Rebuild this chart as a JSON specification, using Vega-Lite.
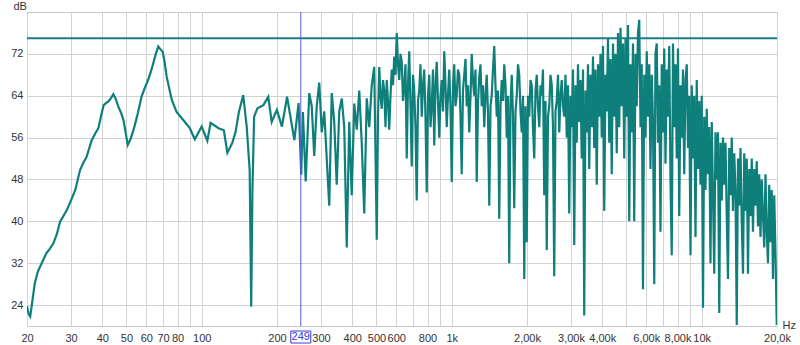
{
"$schema": "https://vega.github.io/schema/vega-lite/v6.json",
"width": 750,
"height": 314,
"autosize": "none",
"padding": {"left": 27, "top": 12, "right": 23, "bottom": 19},
"background": "white",
"config": {
  "view": {"stroke": "#c8c8c8", "strokeWidth": 1},
  "font": "Liberation Sans"
},
"datasets": {
"resp": [
{"f":20,"db":23.8},{"f":20.3,"db":22.3},{"f":20.6,"db":21.8},{"f":21.5,"db":28.2},{"f":22.1,"db":30.4},{"f":23.9,"db":33.9},{"f":24.7,"db":34.8},{"f":25.5,"db":35.8},{"f":26.3,"db":37.5},{"f":27.1,"db":39.9},{"f":28.9,"db":42.2},{"f":30.0,"db":44.0},{"f":31.2,"db":46.0},{"f":32.6,"db":49.8},{"f":33.6,"db":51.2},{"f":34.6,"db":52.3},{"f":36.3,"db":55.5},{"f":37.5,"db":56.8},{"f":38.6,"db":57.8},{"f":39.5,"db":60.0},{"f":40.5,"db":62.2},{"f":41.4,"db":62.6},{"f":42.3,"db":62.9},{"f":43.3,"db":63.5},{"f":44.3,"db":64.3},{"f":45.3,"db":63.4},{"f":46.4,"db":61.9},{"f":47.5,"db":60.8},{"f":48.6,"db":59.4},{"f":49.6,"db":57.0},{"f":50.6,"db":54.6},{"f":52.0,"db":55.8},{"f":53.8,"db":58.1},{"f":55.6,"db":60.8},{"f":57.4,"db":63.8},{"f":59.2,"db":65.5},{"f":61.0,"db":67.0},{"f":62.5,"db":68.5},{"f":64.0,"db":70.2},{"f":65.5,"db":72.0},{"f":67.0,"db":73.4},{"f":68.3,"db":72.9},{"f":69.8,"db":72.4},{"f":71.0,"db":70.5},{"f":72.4,"db":67.6},{"f":75.9,"db":63.2},{"f":79.3,"db":60.9},{"f":84.2,"db":59.4},{"f":89.6,"db":57.8},{"f":93.8,"db":55.7},{"f":99.9,"db":58.1},{"f":105.3,"db":55.4},{"f":108.5,"db":58.8},{"f":116.8,"db":57.8},{"f":122.6,"db":57.4},{"f":126.6,"db":53.1},{"f":132.3,"db":54.9},{"f":136.6,"db":57.1},{"f":140.8,"db":60.9},{"f":146.5,"db":64.1},{"f":151.3,"db":58.1},{"f":155.5,"db":49.8},{"f":157.7,"db":23.7},{"f":159.5,"db":46.0},{"f":162.0,"db":60.0},{"f":167.1,"db":61.6},{"f":176.4,"db":62.2},{"f":184.5,"db":63.8},{"f":190.5,"db":59.0},{"f":199.8,"db":61.3},{"f":209.3,"db":58.1},{"f":219.4,"db":63.8},{"f":234.8,"db":55.5},{"f":243.9,"db":62.6},{"f":250,"db":48.9},{"f":253.9,"db":60.9},{"f":260.5,"db":47.6},
{"f":269.2,"db":64.5},{"f":275.4,"db":62},{"f":281.8,"db":52.5},{"f":288.4,"db":62},{"f":295.1,"db":66.5},{"f":302.0,"db":57},{"f":309.0,"db":61},{"f":316.2,"db":52},{"f":323.6,"db":43},{"f":331.1,"db":64.5},{"f":338.8,"db":59},{"f":346.7,"db":47},{"f":354.8,"db":61},{"f":363.1,"db":63.5},{"f":371.5,"db":58},{"f":380.2,"db":35},{"f":389.0,"db":59},{"f":398.1,"db":45},{"f":407.4,"db":62.5},{"f":416.9,"db":57.5},{"f":426.6,"db":65},{"f":436.5,"db":55},{"f":446.7,"db":41.5},{"f":457.1,"db":63.5},{"f":467.7,"db":58},{"f":478.6,"db":66},{"f":489.8,"db":69.5},
{"f":501.2,"db":36.5},{"f":507.0,"db":60},{"f":512.9,"db":69.5},{"f":518.8,"db":64},{"f":524.8,"db":61.5},{"f":530.9,"db":67},{"f":537.0,"db":65},{"f":543.3,"db":58},{"f":549.5,"db":67},{"f":555.9,"db":63},{"f":562.3,"db":57.5},{"f":568.9,"db":64},{"f":575.4,"db":69},{"f":582.1,"db":66},{"f":588.8,"db":71.5},{"f":595.7,"db":68},{"f":602.6,"db":76},{"f":609.5,"db":70},{"f":616.6,"db":67},{"f":623.7,"db":72},{"f":631.0,"db":70.5},{"f":638.3,"db":63},{"f":645.7,"db":66},{"f":653.1,"db":70},{"f":660.7,"db":52},{"f":668.3,"db":66},{"f":676.1,"db":72.5},{"f":683.9,"db":62},{"f":691.8,"db":50.5},{"f":699.8,"db":68},{"f":707.9,"db":65},{"f":716.1,"db":58},{"f":724.4,"db":44},{"f":732.8,"db":63},{"f":741.3,"db":65},{"f":749.9,"db":70},{"f":758.6,"db":60},{"f":767.4,"db":66},{"f":776.2,"db":69},{"f":785.2,"db":60},{"f":794.3,"db":45.5},{"f":803.5,"db":64},{"f":812.8,"db":68},{"f":822.2,"db":58},{"f":831.8,"db":62},{"f":841.4,"db":69},{"f":851.1,"db":54.5},{"f":861.0,"db":66},{"f":871.0,"db":70.5},{"f":881.0,"db":63},{"f":891.3,"db":56},{"f":901.6,"db":64},{"f":912.0,"db":67},{"f":922.6,"db":61},{"f":933.3,"db":72.5},{"f":944.1,"db":66},{"f":955.0,"db":58},{"f":966.1,"db":64},{"f":977.2,"db":69},{"f":988.6,"db":62},{"f":1000,"db":47.5},
{"f":1012,"db":66},{"f":1023,"db":70},{"f":1035,"db":62},{"f":1047,"db":64},{"f":1059,"db":69},{"f":1072,"db":68},{"f":1084,"db":60},{"f":1096,"db":49},{"f":1109,"db":65},{"f":1122,"db":68},{"f":1135,"db":71},{"f":1148,"db":62},{"f":1161,"db":66},{"f":1175,"db":57},{"f":1189,"db":64},{"f":1202,"db":72},{"f":1216,"db":67},{"f":1230,"db":64},{"f":1245,"db":69},{"f":1259,"db":47.5},{"f":1274,"db":63},{"f":1288,"db":67.5},{"f":1303,"db":70},{"f":1318,"db":62},{"f":1334,"db":66},{"f":1349,"db":58},{"f":1365,"db":64},{"f":1380,"db":68},{"f":1396,"db":61},{"f":1413,"db":43},{"f":1429,"db":62},{"f":1445,"db":64},{"f":1462,"db":69},{"f":1479,"db":73.5},{"f":1496,"db":66},{"f":1514,"db":60},{"f":1531,"db":65},{"f":1549,"db":40.5},{"f":1567,"db":62},{"f":1585,"db":67},{"f":1603,"db":63},{"f":1622,"db":70},{"f":1641,"db":66},{"f":1660,"db":56},{"f":1679,"db":64},{"f":1698,"db":32},{"f":1718,"db":62},{"f":1738,"db":68},{"f":1758,"db":60},{"f":1778,"db":42.5},{"f":1799,"db":61},{"f":1820,"db":64},{"f":1841,"db":70},{"f":1862,"db":68},{"f":1884,"db":61},{"f":1905,"db":57},{"f":1928,"db":64},{"f":1950,"db":29},{"f":1972,"db":62},{"f":1995,"db":36},{"f":2018,"db":64},{"f":2042,"db":60},{"f":2065,"db":67},{"f":2089,"db":66},{"f":2113,"db":58},{"f":2138,"db":52},{"f":2163,"db":65},{"f":2188,"db":68},{"f":2213,"db":62},{"f":2239,"db":58},{"f":2265,"db":66},{"f":2291,"db":64},{"f":2317,"db":69},{"f":2344,"db":45},{"f":2371,"db":63},{"f":2399,"db":34.5},{"f":2427,"db":60},{"f":2455,"db":62},{"f":2483,"db":68},{"f":2512,"db":66},{"f":2541,"db":58},{"f":2570,"db":29.5},{"f":2600,"db":61},{"f":2630,"db":63},{"f":2661,"db":68},{"f":2692,"db":57},{"f":2723,"db":64},{"f":2754,"db":67},{"f":2786,"db":62},
{"f":2818,"db":60},{"f":2851,"db":68},{"f":2884,"db":56},{"f":2917,"db":66},{"f":2951,"db":41.5},{"f":2985,"db":64},{"f":3020,"db":58},{"f":3055,"db":69},{"f":3090,"db":35.5},{"f":3126,"db":66},{"f":3162,"db":55},{"f":3199,"db":70},{"f":3236,"db":59},{"f":3273,"db":67},{"f":3311,"db":52},{"f":3350,"db":69},{"f":3388,"db":22},{"f":3428,"db":65},{"f":3467,"db":57},{"f":3508,"db":70},{"f":3548,"db":50},{"f":3589,"db":68},{"f":3631,"db":58},{"f":3673,"db":71.5},{"f":3715,"db":54},{"f":3758,"db":69},{"f":3802,"db":47},{"f":3846,"db":70},{"f":3890,"db":60},{"f":3936,"db":72},{"f":3981,"db":56},{"f":4027,"db":73.5},{"f":4074,"db":42},{"f":4121,"db":68},{"f":4169,"db":61},{"f":4217,"db":75},{"f":4266,"db":55},{"f":4315,"db":71},{"f":4365,"db":49},{"f":4416,"db":74},{"f":4467,"db":60},{"f":4519,"db":72},{"f":4571,"db":53},{"f":4624,"db":76},{"f":4677,"db":58},{"f":4732,"db":77},{"f":4786,"db":62},{"f":4842,"db":74},{"f":4898,"db":52},{"f":4955,"db":75},{"f":5012,"db":60},{"f":5070,"db":77.5},{"f":5129,"db":40},{"f":5188,"db":70},{"f":5248,"db":57},{"f":5309,"db":74},{"f":5370,"db":40},{"f":5433,"db":72},{"f":5495,"db":62},{"f":5559,"db":76},{"f":5623,"db":78.5},{"f":5689,"db":58},{"f":5754,"db":70},{"f":5821,"db":27},{"f":5888,"db":68},{"f":5957,"db":56},{"f":6026,"db":72.5},{"f":6095,"db":60},{"f":6166,"db":70},{"f":6237,"db":50},{"f":6310,"db":68},{"f":6383,"db":59},{"f":6457,"db":28},{"f":6531,"db":72},{"f":6607,"db":74},{"f":6683,"db":55},{"f":6761,"db":66},{"f":6839,"db":38},{"f":6918,"db":70},{"f":6998,"db":57},{"f":7079,"db":73},{"f":7161,"db":51},{"f":7244,"db":69},{"f":7328,"db":60},{"f":7413,"db":73.5},{"f":7499,"db":48},{"f":7586,"db":33.5},{"f":7674,"db":74},{"f":7762,"db":58},{"f":7852,"db":70},{"f":7943,"db":52},{"f":8035,"db":73},{"f":8128,"db":41},{"f":8222,"db":66},{"f":8318,"db":56},{"f":8414,"db":69},{"f":8511,"db":49},{"f":8610,"db":67},{"f":8710,"db":70},{"f":8810,"db":54},{"f":8913,"db":64},{"f":9016,"db":33.5},{"f":9120,"db":66},{"f":9226,"db":52},{"f":9333,"db":64},{"f":9441,"db":37},{"f":9550,"db":67},{"f":9661,"db":50},{"f":9772,"db":63},{"f":9886,"db":47},{"f":10000,"db":64},{"f":10116,"db":23.5},{"f":10233,"db":60},{"f":10351,"db":46},{"f":10471,"db":61.5},{"f":10593,"db":49},{"f":10715,"db":58},{"f":10839,"db":32},{"f":10965,"db":59},{"f":11092,"db":45},{"f":11220,"db":30},{"f":11350,"db":57},{"f":11482,"db":48},{"f":11614,"db":57},{"f":11749,"db":22.5},{"f":11885,"db":55},{"f":12023,"db":44},{"f":12162,"db":56},{"f":12303,"db":47},{"f":12445,"db":55},{"f":12589,"db":41},{"f":12735,"db":29},{"f":12882,"db":54},{"f":13032,"db":45},{"f":13183,"db":56},{"f":13335,"db":42},{"f":13490,"db":53},{"f":13646,"db":46},{"f":13804,"db":20.2},{"f":13964,"db":52},{"f":14125,"db":43},{"f":14289,"db":54},{"f":14454,"db":40},{"f":14622,"db":30},{"f":14791,"db":53},{"f":14962,"db":42},{"f":15136,"db":52},{"f":15311,"db":30},{"f":15488,"db":50},{"f":15668,"db":41},{"f":15849,"db":52},{"f":16032,"db":38},{"f":16218,"db":50},{"f":16406,"db":43},{"f":16596,"db":51.5},{"f":16788,"db":39},{"f":16982,"db":49},{"f":17179,"db":37},{"f":17378,"db":48},{"f":17579,"db":41},{"f":17783,"db":35},{"f":17989,"db":49},{"f":18197,"db":38},{"f":18408,"db":32},{"f":18621,"db":47},{"f":18836,"db":36},{"f":19055,"db":46},{"f":19275,"db":29},{"f":19498,"db":45},{"f":19724,"db":34},{"f":19953,"db":20.2}
],
"ref": [{"db": 75}],
"cursor": [{"f": 249, "label": "249"}]
},
"layer": [
{
  "data": {"name": "resp"},
  "mark": {"type": "line", "color": "#0f7f7b", "strokeWidth": 2.2, "clip": true},
  "encoding": {
    "x": {"field": "f", "type": "quantitative",
      "scale": {"type": "log", "domain": [20, 20000], "nice": false},
      "axis": {
        "values": [20,30,40,50,60,70,80,90,100,200,300,400,500,600,700,800,900,1000,2000,3000,4000,5000,6000,7000,8000,9000,10000,20000],
        "labelExpr": "(datum.value==90||datum.value==700||datum.value==900||datum.value==5000||datum.value==7000||datum.value==9000) ? '' : datum.value==1000 ? '1k' : datum.value==10000 ? '10k' : datum.value==20000 ? '20,0k' : datum.value>=2000 ? (datum.value/1000)+',00k' : ''+datum.value",
        "grid": true, "gridColor": "#d2d2d2", "gridWidth": 1,
        "ticks": false, "domain": false,
        "labelFont": "Liberation Sans", "labelFontSize": 11, "labelColor": "#333333",
        "labelPadding": 6, "labelFlush": false, "labelOverlap": false,
        "title": "Hz", "titleFont": "Liberation Sans", "titleFontSize": 11, "titleFontWeight": "normal", "titleColor": "#333333",
        "titleX": 755, "titleY": -1, "titleAlign": "left", "titleBaseline": "middle", "titleAnchor": "start"
      }},
    "y": {"field": "db", "type": "quantitative",
      "scale": {"domain": [20, 80], "nice": false, "zero": false},
      "axis": {
        "values": [24,32,40,48,56,64,72],
        "grid": true, "gridColor": "#d2d2d2", "gridWidth": 1,
        "ticks": false, "domain": false,
        "labelFont": "Liberation Sans", "labelFontSize": 11, "labelColor": "#333333", "labelPadding": 4,
        "title": "dB", "titleFont": "Liberation Sans", "titleFontSize": 11, "titleFontWeight": "normal", "titleColor": "#333333",
        "titleAngle": 0, "titleX": -14, "titleY": -6, "titleAlign": "left", "titleBaseline": "middle"
      }}
  }
},
{
  "data": {"name": "ref"},
  "mark": {"type": "rule", "color": "#1a7d87", "strokeWidth": 2},
  "encoding": {"y": {"field": "db", "type": "quantitative"}}
},
{
  "data": {"name": "cursor"},
  "mark": {"type": "rule", "color": "#5a5ae0", "strokeWidth": 1},
  "encoding": {"x": {"field": "f", "type": "quantitative"}}
},
{
  "data": {"name": "cursor"},
  "mark": {"type": "point", "shape": "M-1,-0.6H1V0.6H-1Z", "size": 400, "filled": false, "fill": "white", "fillOpacity": 1, "stroke": "#3a3ad8", "strokeWidth": 1, "opacity": 1, "yOffset": 11, "clip": false},
  "encoding": {"x": {"field": "f", "type": "quantitative"}, "y": {"datum": 20}}
},
{
  "data": {"name": "cursor"},
  "mark": {"type": "text", "color": "#3a3ad8", "font": "Liberation Sans", "fontSize": 11, "align": "center", "baseline": "middle", "dy": 11, "clip": false},
  "encoding": {"x": {"field": "f", "type": "quantitative"}, "y": {"datum": 20}, "text": {"field": "label"}}
}
]
}
